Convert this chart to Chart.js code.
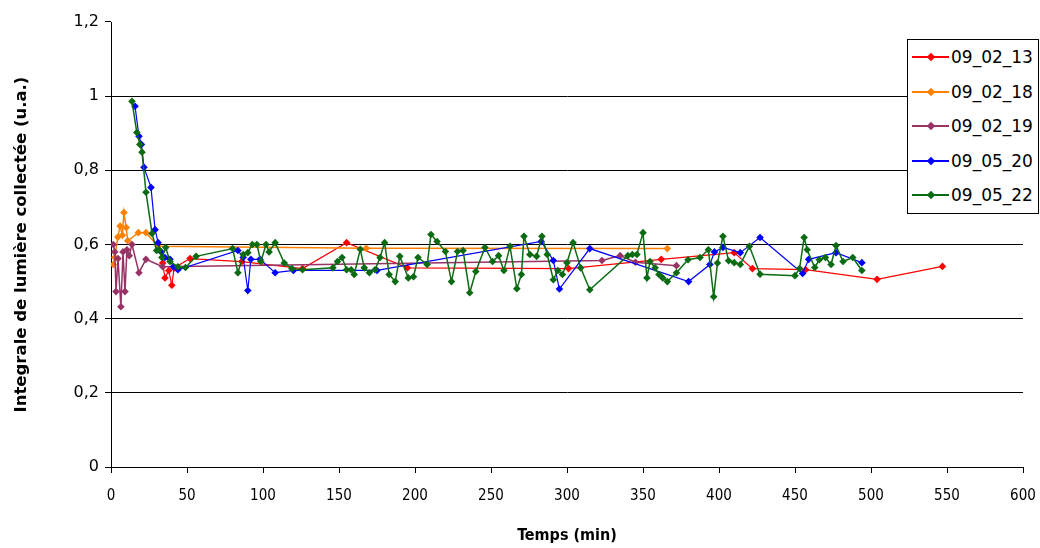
<!DOCTYPE html>
<html lang="fr">
<head>
<meta charset="UTF-8">
<title>Integrale de lumière collectée</title>
<script src="https://cdn.jsdelivr.net/npm/chart.js@4"></script>
<style>
  * { margin: 0; padding: 0; box-sizing: border-box; }
  body { width: 1040px; height: 548px; background: #fff; overflow: hidden; position: relative; }
  #chart { position: absolute; left: 0; top: 0; }
  #legend { position: absolute; left: 907px; top: 39px; width: 132px; border: 1px solid #000; background: #fff;
            font-family: 'DejaVu Sans', sans-serif; font-size: 17px; color: #000; }
  .item { height: 34.5px; position: relative; }
  .item .line { position: absolute; left: 4px; top: 16px; width: 37px; height: 2px; }
  .item .dot { position: absolute; left: 20px; top: 14px; width: 6px; height: 6px; transform: rotate(45deg); }
  .item .txt { position: absolute; left: 43px; top: 0; line-height: 34.5px; }
</style>
</head>
<body>
<canvas id="chart" width="1040" height="548"></canvas>
<div id="legend"></div>

<script>
// series names (legend order)
const seriesNames = ['09_02_13', '09_02_18', '09_02_19', '09_05_20', '09_05_22'];

// [temps (min), integrale (u.a.)]
const s0902_13 = [
  [34, 0.55], [35.5, 0.51], [38, 0.53], [40, 0.49], [41.5, 0.537], [52, 0.562], [86, 0.554],
  [126, 0.535], [155, 0.605], [195, 0.537], [301, 0.535], [362, 0.56], [410, 0.578],
  [422, 0.535], [457, 0.532], [504, 0.506], [547, 0.541]
];
const s0902_18 = [
  [1.5, 0.546], [2.5, 0.565], [4.5, 0.62], [6, 0.65], [7.5, 0.625], [8.5, 0.686], [10, 0.646],
  [11, 0.61], [18, 0.632], [23, 0.632], [31, 0.595], [168, 0.59], [366, 0.589]
];
const s0902_19 = [
  [1.5, 0.6], [2.5, 0.58], [3.3, 0.473], [4.6, 0.562], [6.5, 0.432], [7.9, 0.58], [9.2, 0.473],
  [10.5, 0.586], [12, 0.57], [13.8, 0.6], [18.4, 0.524], [23, 0.56], [34, 0.54],
  [323, 0.557], [335, 0.57], [345, 0.552], [372, 0.543]
];
const s0905_20 = [
  [15.8, 0.973], [18.4, 0.892], [20, 0.87], [21.7, 0.808], [26.3, 0.754], [29, 0.64], [31, 0.605],
  [33, 0.58], [35.5, 0.565], [38.8, 0.56], [41, 0.54], [44, 0.532], [83.5, 0.584], [87, 0.565],
  [90, 0.476], [92, 0.56], [98, 0.56], [108, 0.524], [120, 0.53], [175, 0.53], [283, 0.608],
  [291, 0.557], [295, 0.48], [315, 0.589], [380, 0.5], [394, 0.546], [397, 0.58], [402.6, 0.592],
  [414, 0.578], [427, 0.619], [455, 0.522], [459, 0.56], [477, 0.578], [494, 0.551]
];
const s0905_22 = [
  [13.8, 0.986], [17, 0.902], [19, 0.87], [20.4, 0.849], [23, 0.741], [27, 0.63], [30, 0.584],
  [31.6, 0.586], [33.5, 0.565], [36, 0.592], [38.8, 0.554], [44, 0.54], [49, 0.538], [56, 0.568],
  [80, 0.589], [83.5, 0.524], [87, 0.573], [90, 0.578], [93, 0.6], [96, 0.6], [98.6, 0.554],
  [102, 0.6], [104, 0.58], [108, 0.605], [114, 0.55], [119, 0.535], [126, 0.532], [146, 0.537],
  [149, 0.554], [152, 0.565], [155, 0.532], [158, 0.532], [160, 0.519], [164, 0.587], [166.6, 0.537],
  [170, 0.524], [173.7, 0.532], [177, 0.565], [180, 0.605], [183, 0.519], [187, 0.5], [190, 0.568],
  [195.6, 0.51], [199, 0.513], [202, 0.565], [208, 0.546], [210.5, 0.627], [214.5, 0.608],
  [220, 0.581], [224, 0.5], [228, 0.581], [231.6, 0.584], [236, 0.47], [240, 0.527], [246, 0.592],
  [251, 0.554], [255, 0.57], [258.5, 0.53], [262.5, 0.595], [267, 0.481], [270, 0.519],
  [271.7, 0.622], [275.6, 0.573], [280, 0.568], [283.5, 0.622], [287, 0.573], [291, 0.505],
  [294, 0.53], [297, 0.519], [300, 0.551], [304, 0.605], [309, 0.537], [315, 0.478], [340, 0.57],
  [343, 0.573], [346, 0.573], [350, 0.632], [352.6, 0.51], [354.6, 0.554], [358, 0.537],
  [360.5, 0.519], [363, 0.51], [366, 0.5], [372, 0.524], [379.6, 0.559], [387.5, 0.565],
  [393, 0.586], [396.5, 0.459], [399, 0.55], [402.6, 0.622], [406.3, 0.556], [410, 0.551],
  [414, 0.546], [420, 0.595], [427, 0.52], [450, 0.516], [453, 0.535], [456, 0.619], [458, 0.586],
  [463, 0.538], [466, 0.559], [470, 0.565], [473.7, 0.546], [477, 0.597], [481.6, 0.554],
  [488, 0.565], [494, 0.53]
];
const seriesData = [s0902_13, s0902_18, s0902_19, s0905_20, s0905_22];

// axis ticks
const xTicks = [0, 50, 100, 150, 200, 250, 300, 350, 400, 450, 500, 550, 600];
const yTickLabels = ['0', '0,2', '0,4', '0,6', '0,8', '1', '1,2'];

// styles
const colors = ['#ff0000', '#ff8000', '#993366', '#0000ff', '#0b6b12'];
const lineWidths = [1.2, 1.5, 1.5, 1.2, 1.5];

const datasets = seriesData.map((pts, i) => ({
  label: seriesNames[i],
  data: pts.map(([x, y]) => ({ x, y })),
  showLine: true,
  borderColor: colors[i],
  backgroundColor: colors[i],
  borderWidth: lineWidths[i],
  pointStyle: 'rectRot',
  pointRadius: 3.8,
  pointBorderWidth: 0,
  order: seriesNames.length - i
}));

new Chart(document.getElementById('chart'), {
  type: 'scatter',
  data: { datasets },
  options: {
    responsive: false,
    animation: false,
    layout: { padding: { left: 0, right: 17, top: 22, bottom: 0 } },
    plugins: { legend: { display: false }, tooltip: { enabled: false } },
    scales: {
      x: {
        type: 'linear', min: 0, max: 600,
        afterBuildTicks: s => { s.ticks = xTicks.map(v => ({ value: v })); },
        // keep the plot right edge at 1023 (tick padding would otherwise push it in)
        afterFit: s => { s.height = 81; s.paddingRight = 12; s.paddingLeft = 0; },
        ticks: { color: '#000', padding: 14, maxRotation: 0, autoSkip: false,
                 font: { family: "'DejaVu Sans Condensed', 'DejaVu Sans', sans-serif", size: 15 } },
        grid: { drawOnChartArea: false, color: '#000', tickLength: 6 },
        border: { color: '#000', width: 1 },
        title: { display: true, text: 'Temps (min)', color: '#000', padding: { top: 4, bottom: 3 },
                 font: { family: "'DejaVu Sans Condensed', 'DejaVu Sans', sans-serif", size: 16, weight: 'bold' } }
      },
      y: {
        type: 'linear', min: 0, max: 1.2,
        afterBuildTicks: s => { s.ticks = yTickLabels.map((_, i) => ({ value: i * 0.2 })); },
        afterFit: s => { s.width = 111; },
        ticks: { color: '#000', padding: 6, autoSkip: false,
                 callback: (v, i) => yTickLabels[i],
                 font: { family: "'DejaVu Sans', sans-serif", size: 16 } },
        grid: { color: c => (c.tick && c.tick.value > 1.19 ? 'rgba(0,0,0,0)' : '#000'),
                tickColor: '#000', tickLength: 6 },
        border: { color: '#000', width: 1 },
        title: { display: true, text: 'Integrale de lumière collectée (u.a.)', color: '#000', padding: { top: 12, bottom: 0 },
                 font: { family: "'DejaVu Sans', sans-serif", size: 16.5, weight: 'bold' } }
      }
    }
  }
});

// legend box drawn as html on top of the plot
const legend = document.getElementById('legend');
seriesNames.forEach((name, i) => {
  const row = document.createElement('div');
  row.className = 'item';
  row.innerHTML = `<span class="line" style="background:${colors[i]}"></span>` +
    `<span class="dot" style="background:${colors[i]}"></span><span class="txt">${name}</span>`;
  legend.appendChild(row);
});
</script>
</body>
</html>
